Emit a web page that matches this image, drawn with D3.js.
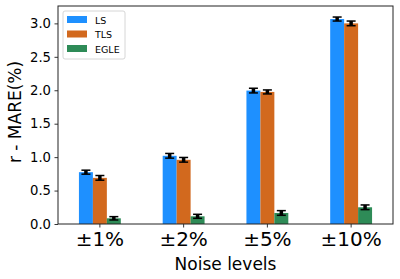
<!DOCTYPE html>
<html>
<head>
<meta charset="utf-8">
<script src="https://cdn.jsdelivr.net/npm/d3@7"></script>
<style>
  body { margin: 0; background: #fff; }
  svg, svg text { font-family: "DejaVu Sans", sans-serif; }
</style>
</head>
<body>
<div id="chart"></div>
<script>
// noise levels on the x axis
var categories = ["±1%", "±2%", "±5%", "±10%"];
var seriesNames = ["LS", "TLS", "EGLE"];
var seriesColors = ["#1E90FF", "#D2691E", "#2E8B57"];

// mean r-MARE values
var lsValues = [0.775, 1.02, 1.995, 3.065];
var tlsValues = [0.69, 0.96, 1.975, 3.00];
var egleValues = [0.085, 0.115, 0.165, 0.25];

// error (half-length of each error bar)
var lsErr = [0.03, 0.035, 0.035, 0.03];
var tlsErr = [0.035, 0.035, 0.03, 0.035];
var egleErr = [0.025, 0.03, 0.035, 0.035];

var yTicks = [0.0, 0.5, 1.0, 1.5, 2.0, 2.5, 3.0];

var values = [lsValues, tlsValues, egleValues];
var errors = [lsErr, tlsErr, egleErr];

var W = 400, H = 279;
var margin = {top: 6, right: 7, bottom: 55, left: 58};
var width = W - margin.left - margin.right,
    height = H - margin.top - margin.bottom;

var svg = d3.select("#chart").append("svg")
  .attr("width", W)
  .attr("height", H);

var g = svg.append("g")
  .attr("transform", "translate(" + margin.left + "," + margin.top + ")");

var x = d3.scaleBand()
  .domain(categories)
  .range([0, width])
  .padding(0);

var y = d3.scaleLinear()
  .domain([0, 3.26])
  .range([height, 0]);

var barW = x.bandwidth() / 6;

// bars
seriesNames.forEach(function(name, s) {
  g.append("g")
    .selectAll("rect")
    .data(values[s])
    .enter().append("rect")
    .attr("x", function(d, i) { return x(categories[i]) + x.bandwidth() / 2 + (s - 1.5) * barW; })
    .attr("y", function(d) { return y(d); })
    .attr("width", barW)
    .attr("height", function(d) { return height - y(d); })
    .attr("fill", seriesColors[s]);
});

// error bars
seriesNames.forEach(function(name, s) {
  values[s].forEach(function(v, i) {
    var cx = x(categories[i]) + x.bandwidth() / 2 + (s - 1) * barW;
    var e = errors[s][i];
    var eb = g.append("g");
    eb.append("line")
      .attr("x1", cx).attr("x2", cx)
      .attr("y1", y(v - e)).attr("y2", y(v + e))
      .attr("stroke", "#000").attr("stroke-width", 3.5);
    [v - e, v + e].forEach(function(c) {
      eb.append("line")
        .attr("x1", cx - 4.5).attr("x2", cx + 4.5)
        .attr("y1", y(c)).attr("y2", y(c))
        .attr("stroke", "#000").attr("stroke-width", 1.5);
    });
  });
});

// axes
var xAxis = g.append("g")
  .attr("transform", "translate(0," + height + ")")
  .call(d3.axisBottom(x).tickSize(3.5).tickPadding(4));
xAxis.selectAll("text").style("font-size", "20px").attr("fill", "#000");

var yAxis = g.append("g")
  .call(d3.axisLeft(y).tickValues(yTicks).tickFormat(d3.format(".1f")).tickSize(3.5).tickPadding(3.5));
yAxis.selectAll("text").style("font-size", "13.2px").attr("fill", "#000");
xAxis.attr("font-family", "DejaVu Sans");
yAxis.attr("font-family", "DejaVu Sans");

g.selectAll(".domain").remove();
g.selectAll(".tick line").attr("stroke", "#000").attr("stroke-width", 0.8);

// frame
g.append("rect")
  .attr("width", width).attr("height", height)
  .attr("fill", "none").attr("stroke", "#222").attr("stroke-width", 1);

// axis labels
svg.append("text")
  .attr("x", margin.left + width / 2)
  .attr("y", 270)
  .attr("text-anchor", "middle")
  .style("font-size", "17px")
  .text("Noise levels");

svg.append("text")
  .attr("transform", "translate(21,112) rotate(-90)")
  .attr("text-anchor", "middle")
  .style("font-size", "17px")
  .text("r - MARE(%)");

// legend
var legend = g.append("g").attr("transform", "translate(5,5)");
legend.append("rect")
  .attr("width", 62).attr("height", 48)
  .attr("rx", 2)
  .attr("fill", "#fff").attr("stroke", "#ccc").attr("stroke-width", 0.8);
seriesNames.forEach(function(name, s) {
  var row = legend.append("g").attr("transform", "translate(0," + (5 + s * 14.5) + ")");
  row.append("rect")
    .attr("x", 4).attr("y", 0)
    .attr("width", 20).attr("height", 7)
    .attr("fill", seriesColors[s]);
  row.append("text")
    .attr("x", 32).attr("y", 7.5)
    .style("font-size", "9.5px")
    .text(name);
});
</script>
</body>
</html>
